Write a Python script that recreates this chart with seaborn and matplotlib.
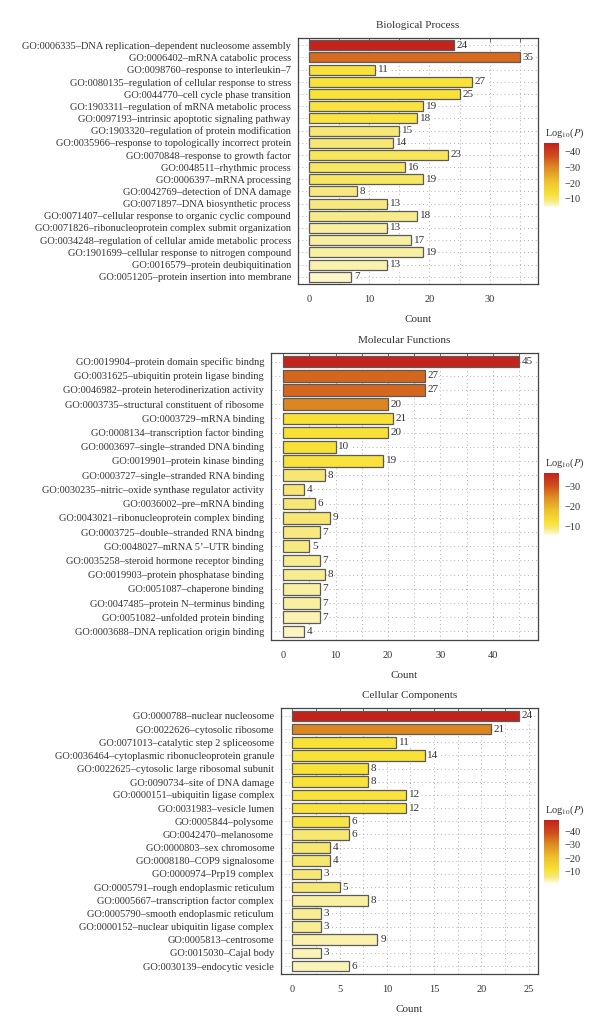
import matplotlib
matplotlib.use("Agg")
from matplotlib import pyplot as plt
from matplotlib.colors import LinearSegmentedColormap, Normalize
from matplotlib.ticker import MultipleLocator
import matplotlib as mpl
import pandas as pd
import seaborn as sns

# Biological Process
bp_terms = [
    "GO:0006335–DNA replication–dependent nucleosome assembly",
    "GO:0006402–mRNA catabolic process",
    "GO:0098760–response to interleukin–7",
    "GO:0080135–regulation of cellular response to stress",
    "GO:0044770–cell cycle phase transition",
    "GO:1903311–regulation of mRNA metabolic process",
    "GO:0097193–intrinsic apoptotic signaling pathway",
    "GO:1903320–regulation of protein modification",
    "GO:0035966–response to topologically incorrect protein",
    "GO:0070848–response to growth factor",
    "GO:0048511–rhythmic process",
    "GO:0006397–mRNA processing",
    "GO:0042769–detection of DNA damage",
    "GO:0071897–DNA biosynthetic process",
    "GO:0071407–cellular response to organic cyclic compound",
    "GO:0071826–ribonucleoprotein complex submit organization",
    "GO:0034248–regulation of cellular amide metabolic process",
    "GO:1901699–cellular response to nitrogen compound",
    "GO:0016579–protein deubiquitination",
    "GO:0051205–protein insertion into membrane",
]
bp_counts = [24, 35, 11, 27, 25, 19, 18, 15, 14, 23, 16, 19, 8, 13, 18, 13, 17, 19, 13, 7]
bp_logp = [-45, -34, -13, -13, -13, -12.5, -12.5, -9.5, -9.5, -11, -10.5, -10.5,
           -9, -9, -8.5, -7.5, -7.5, -7.5, -7, -6]
bp_range = [-45.7, -4.9]
bp_ticks = [-40, -30, -20, -10]

# Molecular Functions
mf_terms = [
    "GO:0019904–protein domain specific bindng",
    "GO:0031625–ubiquitin protein ligase binding",
    "GO:0046982–protein heterodinerization activity",
    "GO:0003735–structural constituent of ribosome",
    "GO:0003729–mRNA binding",
    "GO:0008134–transcription factor binding",
    "GO:0003697–single–stranded DNA binding",
    "GO:0019901–protein kinase binding",
    "GO:0003727–single–stranded RNA binding",
    "GO:0030235–nitric–oxide synthase regulator activity",
    "GO:0036002–pre–mRNA binding",
    "GO:0043021–ribonucleoprotein complex binding",
    "GO:0003725–double–stranded RNA bindng",
    "GO:0048027–mRNA 5’–UTR binding",
    "GO:0035258–steroid hormone receptor binding",
    "GO:0019903–protein phosphatase binding",
    "GO:0051087–chaperone binding",
    "GO:0047485–protein N–terminus binding",
    "GO:0051082–unfolded protein binding",
    "GO:0003688–DNA replication origin binding",
]
mf_counts = [45, 27, 27, 20, 21, 20, 10, 19, 8, 4, 6, 9, 7, 5, 7, 8, 7, 7, 7, 4]
mf_logp = [-36, -28, -28, -25, -12, -12, -12, -11.5, -9, -9, -9, -9, -8.5,
           -8.5, -8, -8, -7.5, -7.5, -7, -6.5]
mf_range = [-36.5, -5.5]
mf_ticks = [-30, -20, -10]

# Cellular Components
cc_terms = [
    "GO:0000788–nuclear nucleosome",
    "GO:0022626–cytosolic ribosome",
    "GO:0071013–catalytic step 2 spliceosome",
    "GO:0036464–cytoplasmic ribonucleoprotein granule",
    "GO:0022625–cytosolic large ribosomal subunit",
    "GO:0090734–site of DNA damage",
    "GO:0000151–ubiquitin ligase complex",
    "GO:0031983–vesicle lumen",
    "GO:0005844–polysome",
    "GO:0042470–melanosome",
    "GO:0000803–sex chromosome",
    "GO:0008180–COP9 signalosome",
    "GO:0000974–Prp19 complex",
    "GO:0005791–rough endoplasmic reticulum",
    "GO:0005667–transcription factor complex",
    "GO:0005790–smooth endoplasmic reticulum",
    "GO:0000152–nuclear ubiquitin ligase complex",
    "GO:0005813–centrosome",
    "GO:0015030–Cajal body",
    "GO:0030139–endocytic vesicle",
]
cc_counts = [24, 21, 11, 14, 8, 8, 12, 12, 6, 6, 4, 4, 3, 5, 8, 3, 3, 9, 3, 6]
cc_logp = [-48, -31, -11, -11, -11, -11, -10.5, -10.5, -10, -7, -7, -7, -6.5,
           -6.5, -4.5, -5, -5, -4, -3.5, -3.5]
cc_range = [-48.3, -1.5]
cc_ticks = [-40, -30, -20, -10]

go_cmap = LinearSegmentedColormap.from_list("go", [
    (0.0, "#c3211b"),
    (0.2, "#cf4c1c"),
    (0.38, "#dd8a22"),
    (0.6, "#eec22b"),
    (0.8, "#f8e236"),
    (0.9, "#f6e87c"),
    (1.0, "#fffbe0"),
])

TEXT = "#333333"


def draw_panel(fig, ax_rect, cb_rect, title, terms, counts, logp, crange, cticks, major, xmax):
    ax = fig.add_axes(ax_rect)
    norm = Normalize(vmin=crange[0], vmax=crange[1])
    df = pd.DataFrame({"term": terms, "count": counts, "logp": logp})
    palette = {t: go_cmap(norm(v)) for t, v in zip(terms, logp)}
    sns.barplot(data=df, x="count", y="term", hue="term", palette=palette,
                legend=False, orient="h", width=0.82, edgecolor="#5a5a5a",
                linewidth=0.9, saturation=1, ax=ax)
    ax.set_axisbelow(True)
    ax.set_xlim(xmax[0], xmax[1])
    ax.set_ylim(len(terms) - 0.4, -0.6)
    ax.xaxis.set_major_locator(MultipleLocator(major))
    ax.xaxis.set_minor_locator(MultipleLocator(major / 2))
    ax.grid(True, which="both", axis="x", linestyle=(0, (1, 3)), color="#b0b0b0", linewidth=0.7)
    ax.grid(True, which="major", axis="y", linestyle=(0, (1, 3)), color="#b0b0b0", linewidth=0.7)
    for container in ax.containers:
        labels = ax.bar_label(container, padding=2, fontsize=8, color=TEXT)
        for lb in labels:
            lb.set_bbox(dict(facecolor="white", edgecolor="none", pad=0.6))
    ax.set_title(title, fontsize=8, color=TEXT, pad=7)
    ax.set_xlabel("Count", fontsize=8, color=TEXT, labelpad=8)
    ax.set_ylabel("")
    ax.tick_params(axis="y", length=3, width=0.6, color="#555555", labelsize=7.5,
                   labelcolor=TEXT, pad=2)
    ax.tick_params(axis="x", which="both", direction="in", top=True, length=3,
                   width=0.6, color="#555555", labelsize=7.5, labelcolor=TEXT, pad=8)
    for sp in ax.spines.values():
        sp.set_color("#444444")
        sp.set_linewidth(0.9)

    cax = fig.add_axes(cb_rect)
    cb = fig.colorbar(mpl.cm.ScalarMappable(norm=norm, cmap=go_cmap), cax=cax)
    cb.outline.set_visible(False)
    cax.invert_yaxis()
    cb.set_ticks(cticks)
    cb.set_ticklabels([f"−{abs(t)}" for t in cticks])
    cax.tick_params(length=0, labelsize=7.5, labelcolor=TEXT, pad=4)
    cax.set_title(r"Log$_{10}$($P$)", fontsize=7.5, color=TEXT, pad=5, loc="left", x=0.05)


def main():
    sns.set_theme(style="white")
    plt.rcParams["font.family"] = ["Liberation Serif", "DejaVu Serif"]
    plt.rcParams["mathtext.fontset"] = "stix"
    fig = plt.figure(figsize=(6.0, 10.34), dpi=100)
    H = 1034.0

    def rect(left, top, right, bottom):
        return [left / 600, (H - bottom) / H, (right - left) / 600, (bottom - top) / H]

    draw_panel(fig, rect(298, 38, 538, 284), rect(544, 143, 559, 207), "Biological Process",
               bp_terms, bp_counts, bp_logp, bp_range, bp_ticks, 10, (-1.8, 38.0))
    draw_panel(fig, rect(271, 353, 538, 640), rect(544, 473, 559, 535), "Molecular Functions",
               mf_terms, mf_counts, mf_logp, mf_range, mf_ticks, 10, (-2.3, 48.6))
    draw_panel(fig, rect(281, 708, 538, 974), rect(544, 820, 559, 883), "Cellular Components",
               cc_terms, cc_counts, cc_logp, cc_range, cc_ticks, 5, (-1.2, 26.0))
    fig.savefig("out.png", dpi=100, facecolor="white")


if __name__ == "__main__":
    main()
